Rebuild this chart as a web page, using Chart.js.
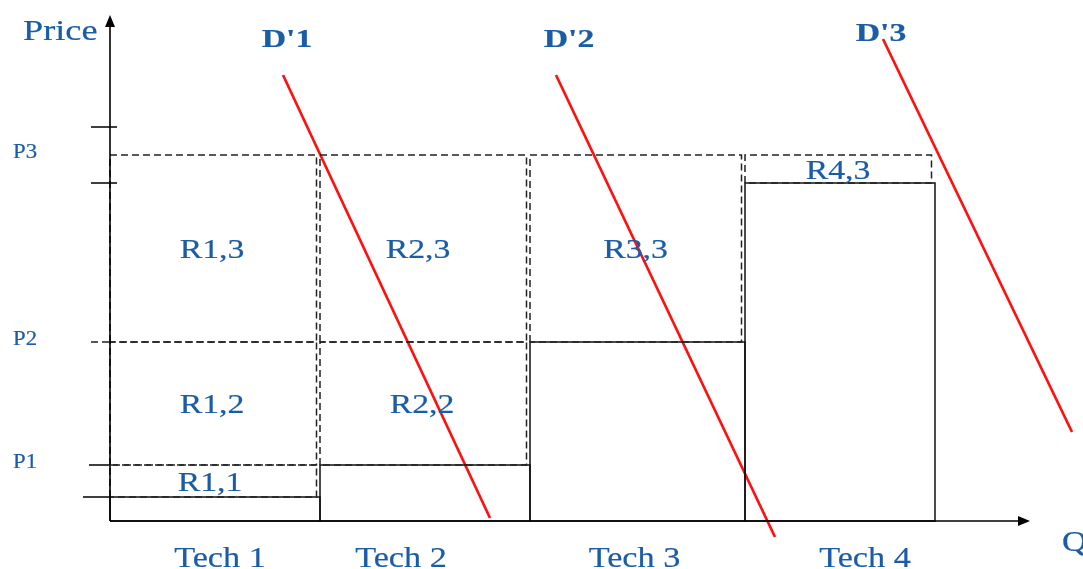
<!DOCTYPE html>
<html>
<head>
<meta charset="utf-8">
<script src="https://cdn.jsdelivr.net/npm/chart.js@4/dist/chart.umd.min.js"></script>
<style>
  html, body { margin: 0; padding: 0; background: #fff; }
</style>
</head>
<body>
<canvas id="chart" width="1083" height="569"></canvas>
<script>
// data (x = quantity units, y = price units)
const techs = ['Tech 1', 'Tech 2', 'Tech 3', 'Tech 4'];
const techEdges = [0, 21, 42, 63.5, 82.5];
const techTops = [4.8, 11.2, 35.8, 67.6];

const priceNames = ['P1', 'P2', 'P3'];
const priceLevels = [11.2, 35.8, 73.2];
const extraTicks = [67.6, 78.8];

const regionNames = ['R1,1', 'R1,2', 'R1,3', 'R2,2', 'R2,3', 'R3,3', 'R4,3'];
const regionTech = [0, 0, 0, 1, 1, 2, 3];
const regionLow = [4.8, 11.2, 35.8, 11.2, 35.8, 35.8, 67.6];
const regionHigh = [11.2, 35.8, 73.2, 35.8, 73.2, 73.2, 73.2];

const demandNames = ["D'1", "D'2", "D'3"];
const demandX1 = [17.3, 44.6, 77.3];
const demandY1 = [89.2, 89.2, 96.4];
const demandX2 = [38, 66.5, 96.2];
const demandY2 = [0.6, -3.2, 17.8];

// styles
const blue = '#1a5ca5';
const serif = '"Liberation Serif", "DejaVu Serif", serif';
const techLabelNudge = [5, -24, -3, 25];
const regionLabelNudge = [-5, -3, -3, -3, -7, -2, -2];
const demandLabelPos = [[287, 47], [569, 47], [881, 41]];

function rect(x0, x1, y0, y1) {
    return [{x: x0, y: y0}, {x: x0, y: y1}, {x: x1, y: y1}, {x: x1, y: y0}, {x: x0, y: y0}];
}

const datasets = [];

// dashed revenue boxes
regionNames.forEach((name, i) => {
    const t = regionTech[i];
    datasets.push({
        data: rect(techEdges[t], techEdges[t + 1] - 0.35, regionLow[i], regionHigh[i]),
        borderColor: '#222',
        borderWidth: 1.5,
        borderDash: [7, 4]
    });
});

// technology bars
techs.forEach((name, i) => {
    datasets.push({
        data: rect(techEdges[i], techEdges[i + 1], 0, techTops[i]),
        borderColor: '#111',
        borderWidth: 1.5
    });
});

// demand lines
demandNames.forEach((name, i) => {
    datasets.push({
        data: [{x: demandX1[i], y: demandY1[i]}, {x: demandX2[i], y: demandY2[i]}],
        borderColor: '#ff1010',
        borderWidth: 2.7
    });
});

datasets.forEach(d => {
    d.showLine = true;
    d.pointRadius = 0;
    d.fill = false;
    d.clip = false;
    d.tension = 0;
});

function drawText(ctx, txt, x, y, size, stretch, bold, align) {
    ctx.save();
    ctx.translate(x, y);
    ctx.scale(stretch, 1);
    ctx.font = (bold ? 'bold ' : '') + size + 'px ' + serif;
    ctx.fillStyle = blue;
    ctx.strokeStyle = blue;
    ctx.lineWidth = 0.2;
    ctx.textAlign = align || 'center';
    ctx.textBaseline = 'alphabetic';
    ctx.fillText(txt, 0, 0);
    ctx.strokeText(txt, 0, 0);
    ctx.restore();
}

const decor = {
    id: 'decor',
    afterDatasetsDraw(chart) {
        const ctx = chart.ctx;
        const xs = chart.scales.x;
        const ys = chart.scales.y;
        const x0 = xs.getPixelForValue(0);
        const y0 = ys.getPixelForValue(0);

        ctx.save();
        ctx.strokeStyle = '#000';
        ctx.fillStyle = '#000';
        ctx.lineWidth = 1.6;

        // axes with arrows
        const yTop = ys.getPixelForValue(101.2);
        const xEnd = xs.getPixelForValue(92);
        ctx.beginPath();
        ctx.moveTo(x0, y0);
        ctx.lineTo(x0, yTop + 8);
        ctx.moveTo(x0, y0);
        ctx.lineTo(xEnd - 10, y0);
        ctx.stroke();
        ctx.beginPath();
        ctx.moveTo(x0, yTop);
        ctx.lineTo(x0 - 5, yTop + 12);
        ctx.lineTo(x0 + 5, yTop + 12);
        ctx.closePath();
        ctx.fill();
        ctx.beginPath();
        ctx.moveTo(xEnd, y0);
        ctx.lineTo(xEnd - 12, y0 - 5);
        ctx.lineTo(xEnd - 12, y0 + 5);
        ctx.closePath();
        ctx.fill();

        // tick marks
        ctx.lineWidth = 1.4;
        ctx.beginPath();
        extraTicks.forEach(v => {
            const py = ys.getPixelForValue(v);
            ctx.moveTo(x0 - 19, py);
            ctx.lineTo(x0 + 7, py);
        });
        let py = ys.getPixelForValue(priceLevels[0]);
        ctx.moveTo(x0 - 21, py);
        ctx.lineTo(x0, py);
        py = ys.getPixelForValue(techTops[0]);
        ctx.moveTo(x0 - 27, py);
        ctx.lineTo(x0, py);
        ctx.stroke();
        ctx.setLineDash([7, 4]);
        ctx.strokeStyle = '#222';
        ctx.beginPath();
        py = ys.getPixelForValue(priceLevels[1]);
        ctx.moveTo(x0 - 19, py);
        ctx.lineTo(x0, py);
        ctx.stroke();
        ctx.restore();

        // texts
        drawText(ctx, 'Price', 23, 40, 29, 1.25, false, 'left');
        drawText(ctx, 'Q', 1062, 551, 29, 1.2, false, 'left');
        priceNames.forEach((n, i) => {
            drawText(ctx, n, 13, ys.getPixelForValue(priceLevels[i]) + 3, 20, 1.14, false, 'left');
        });
        techs.forEach((n, i) => {
            const cx = (xs.getPixelForValue(techEdges[i]) + xs.getPixelForValue(techEdges[i + 1])) / 2;
            drawText(ctx, n, cx + techLabelNudge[i], 567, 29, 1.18, false);
        });
        regionNames.forEach((n, i) => {
            const t = regionTech[i];
            const cx = (xs.getPixelForValue(techEdges[t]) + xs.getPixelForValue(techEdges[t + 1])) / 2;
            const cy = (ys.getPixelForValue(regionLow[i]) + ys.getPixelForValue(regionHigh[i])) / 2;
            drawText(ctx, n, cx + regionLabelNudge[i], cy + 9.5, 27, 1.25, false);
        });
        demandNames.forEach((n, i) => {
            drawText(ctx, n, demandLabelPos[i][0], demandLabelPos[i][1], 25, 1.35, true);
        });
    }
};

new Chart(document.getElementById('chart'), {
    type: 'scatter',
    data: { datasets: datasets },
    options: {
        responsive: false,
        devicePixelRatio: 1,
        animation: false,
        layout: { padding: { left: 110, right: 3, top: 11, bottom: 48 } },
        scales: {
            x: { type: 'linear', min: 0, max: 97, display: false },
            y: { type: 'linear', min: 0, max: 102, display: false }
        },
        plugins: {
            legend: { display: false },
            tooltip: { enabled: false }
        }
    },
    plugins: [decor]
});
</script>
</body>
</html>
